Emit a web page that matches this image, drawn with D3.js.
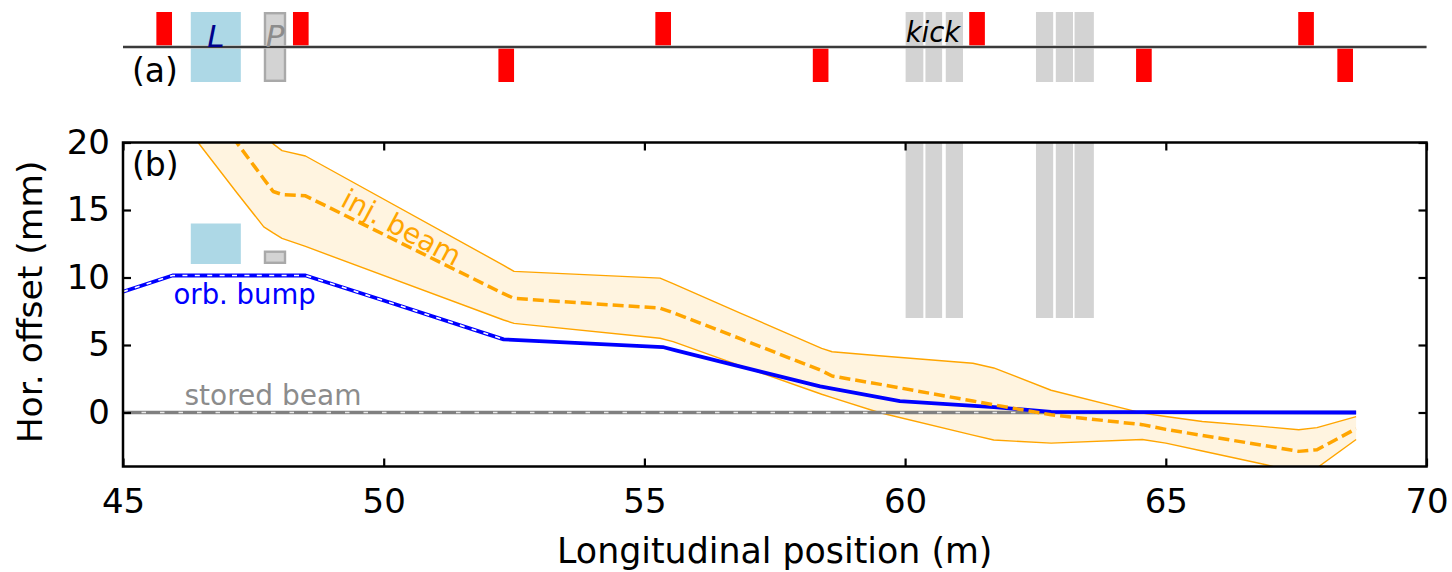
<!DOCTYPE html>
<html><head><meta charset="utf-8">
<script src="https://cdn.jsdelivr.net/npm/d3@7"></script>
<style>body{margin:0;background:#fff;} svg{display:block;font-family:"DejaVu Sans",sans-serif;}</style>
</head><body><svg id="c" width="1452" height="572"></svg>
<script>
// ---------- data ----------
const xTicks = [45, 50, 55, 60, 65, 70];
const yTicks = [0, 5, 10, 15, 20];

// injected beam envelope (mm) vs longitudinal position (m)
const injS      = [46.0, 46.44, 47.18, 47.7, 47.88, 48.05, 48.5, 52.3, 52.5, 55.3, 55.55, 56.85, 58.4, 58.6, 59.5, 61.3, 61.7, 62.8, 64.55, 65.0, 65.7, 66.9, 67.55, 67.9, 68.65];
const injUpper  = [28.5, 26.5, 23.0, 20.7, 19.9, 19.4, 19.0, 10.9, 10.45, 9.95, 9.55, 7.35, 4.75, 4.5, 4.2, 3.65, 3.3, 1.65, -0.05, -0.3, -0.67, -1.05, -1.28, -1.12, -0.3];
const injCenter = [26.1, 23.8, 20.0, 17.3, 16.37, 16.15, 16.05, 8.8, 8.45, 7.73, 7.4, 5.45, 3.1, 2.7, 2.1, 0.85, 0.57, -0.17, -0.9, -1.25, -1.7, -2.45, -2.88, -2.76, -1.2];
const injLower  = [22.2, 20.0, 16.3, 13.75, 13.3, 12.9, 12.3, 6.85, 6.6, 5.5, 5.25, 3.45, 1.35, 1.1, 0.0, -1.68, -2.04, -2.27, -2.0, -2.27, -2.85, -3.85, -4.5, -4.1, -2.0];

// orbit bump
const orbS   = [45.0, 45.95, 48.5, 50.0, 52.3, 55.35, 55.6, 58.37, 59.9, 61.7, 62.8, 68.65];
const orbVal = [8.95, 10.15, 10.15, 8.3, 5.42, 4.85, 4.6, 1.93, 0.85, 0.4, 0.05, 0.0];
const orbDashEnd = 52.3;

// stored beam
const storedS   = [45.0, 68.65];
const storedVal = [0, 0];

// lattice elements (panel a)
const quadUp   = [45.79, 48.41, 55.36, 61.38, 67.69];
const quadDown = [52.35, 58.38, 64.58, 68.44];
const quadLen  = 0.3;
const kickStart = [60.01, 60.39, 60.78, 62.51, 62.89, 63.25];
const kickEnd   = [60.35, 60.71, 61.11, 62.84, 63.22, 63.62];
const kickLow = 7, kickHigh = 20;
const lambS = [46.30, 47.26], lambY = [11, 14];
const septS = [47.70, 48.13], septY = [11, 12];

// ---------- drawing ----------
const svg = d3.select("#c");
const x = d3.scaleLinear().domain([45, 70]).range([123, 1426.5]);
const y = d3.scaleLinear().domain([-4, 20]).range([466.5, 142.5]);
const ya = d3.scaleLinear().domain([-1, 1]).range([82, 12]);

// ---- panel (a) ----
const ga = svg.append("g");
ga.append("rect").attr("x", x(lambS[0])).attr("width", x(lambS[1]) - x(lambS[0]))
  .attr("y", ya(1)).attr("height", ya(-1) - ya(1)).attr("fill", "#add8e6");
ga.append("rect").attr("x", x(septS[0]) + 1.2).attr("width", x(septS[1]) - x(septS[0]) - 2.4)
  .attr("y", ya(1) + 1.2).attr("height", ya(-1) - ya(1) - 2.4)
  .attr("fill", "#d3d3d3").attr("stroke", "#a9a9a9").attr("stroke-width", 2.4);
ga.selectAll("rect.kick").data(kickStart).join("rect").attr("class", "kick")
  .attr("x", (d) => x(d)).attr("width", (d, i) => x(kickEnd[i]) - x(d))
  .attr("y", ya(1)).attr("height", ya(-1) - ya(1)).attr("fill", "#d3d3d3");
ga.selectAll("rect.qu").data(quadUp).join("rect").attr("class", "qu")
  .attr("x", (d) => x(d - quadLen / 2)).attr("width", x(quadLen) - x(0))
  .attr("y", ya(1)).attr("height", ya(0) - ya(1)).attr("fill", "#ff0000");
ga.selectAll("rect.qd").data(quadDown).join("rect").attr("class", "qd")
  .attr("x", (d) => x(d - quadLen / 2)).attr("width", x(quadLen) - x(0))
  .attr("y", ya(0)).attr("height", ya(-1) - ya(0)).attr("fill", "#ff0000");
ga.append("line").attr("x1", x(45)).attr("x2", x(70)).attr("y1", ya(0)).attr("y2", ya(0))
  .attr("stroke", "#bbbbbb").attr("stroke-width", 3.5);
ga.append("line").attr("x1", x(45)).attr("x2", x(70)).attr("y1", ya(0)).attr("y2", ya(0))
  .attr("stroke", "#111").attr("stroke-width", 1.3);
ga.append("text").attr("x", (x(lambS[0]) + x(lambS[1])) / 2).attr("y", 46.5)
  .attr("text-anchor", "middle").attr("font-style", "italic").attr("font-size", 31)
  .attr("fill", "#00008b").text("L");
ga.append("text").attr("x", (x(septS[0]) + x(septS[1])) / 2).attr("y", 46.5)
  .attr("text-anchor", "middle").attr("font-style", "italic").attr("font-size", 31)
  .attr("fill", "#8c8c8c").text("P");
ga.append("text").attr("x", 933).attr("y", 41.5)
  .attr("text-anchor", "middle").attr("font-style", "italic").attr("font-size", 27.5)
  .attr("fill", "#000").text("kick");
ga.append("text").attr("x", 132).attr("y", 82).attr("font-size", 33).text("(a)");

// ---- panel (b) ----
svg.append("defs").append("clipPath").attr("id", "clip").append("rect")
  .attr("x", x(45)).attr("y", y(20)).attr("width", x(70) - x(45)).attr("height", y(-4) - y(20));
svg.select("defs").append("clipPath").attr("id", "clipDash").append("rect")
  .attr("x", x(45)).attr("y", y(20)).attr("width", x(orbDashEnd) - x(45)).attr("height", y(-4) - y(20));

const gb = svg.append("g").attr("clip-path", "url(#clip)");
const idx = injS.map((d, i) => i);

gb.append("path").datum(idx)
  .attr("d", d3.area().x((i) => x(injS[i])).y0((i) => y(injLower[i])).y1((i) => y(injUpper[i])))
  .attr("fill", "#ffa500").attr("fill-opacity", 0.12);

gb.selectAll("rect.kb").data(kickStart).join("rect").attr("class", "kb")
  .attr("x", (d) => x(d)).attr("width", (d, i) => x(kickEnd[i]) - x(d))
  .attr("y", y(kickHigh)).attr("height", y(kickLow) - y(kickHigh)).attr("fill", "#d3d3d3");
gb.append("rect").attr("x", x(lambS[0])).attr("width", x(lambS[1]) - x(lambS[0]))
  .attr("y", y(lambY[1])).attr("height", y(lambY[0]) - y(lambY[1])).attr("fill", "#add8e6");
gb.append("rect").attr("x", x(septS[0]) + 1.2).attr("width", x(septS[1]) - x(septS[0]) - 2.4)
  .attr("y", y(septY[1]) + 1.2).attr("height", y(septY[0]) - y(septY[1]) - 2.4)
  .attr("fill", "#d3d3d3").attr("stroke", "#a9a9a9").attr("stroke-width", 2.4);

const lineOf = (xs, ys) => d3.line().x((i) => x(xs[i])).y((i) => y(ys[i]));

gb.append("path").datum(idx).attr("d", lineOf(injS, injUpper))
  .attr("fill", "none").attr("stroke", "#ffa500").attr("stroke-width", 1.4).attr("stroke-linejoin", "round");
gb.append("path").datum(idx).attr("d", lineOf(injS, injLower))
  .attr("fill", "none").attr("stroke", "#ffa500").attr("stroke-width", 1.4).attr("stroke-linejoin", "round");

const sIdx = storedS.map((d, i) => i);
gb.append("path").datum(sIdx).attr("d", lineOf(storedS, storedVal))
  .attr("fill", "none").attr("stroke", "#808080").attr("stroke-width", 3.6);
gb.append("path").datum(sIdx).attr("d", lineOf(storedS, storedVal))
  .attr("fill", "none").attr("stroke", "#e8e8e8").attr("stroke-width", 1.6)
  .attr("stroke-dasharray", "4.5,14");

const oIdx = orbS.map((d, i) => i);
gb.append("path").datum(oIdx).attr("d", lineOf(orbS, orbVal))
  .attr("fill", "none").attr("stroke", "#0000ff").attr("stroke-width", 3.8).attr("stroke-linejoin", "round");
svg.append("path").datum(oIdx).attr("d", lineOf(orbS, orbVal)).attr("clip-path", "url(#clipDash)")
  .attr("fill", "none").attr("stroke", "#ffffff").attr("stroke-width", 1.6)
  .attr("stroke-dasharray", "5,7.4");

gb.append("path").datum(idx).attr("d", lineOf(injS, injCenter))
  .attr("fill", "none").attr("stroke", "#ffa500").attr("stroke-width", 3.5)
  .attr("stroke-dasharray", "11,5").attr("stroke-linejoin", "round");

// annotations
svg.append("text").attr("x", 173.5).attr("y", 304).attr("font-size", 27.5)
  .attr("fill", "#0000ff").text("orb. bump");
svg.append("text").attr("x", 184.5).attr("y", 405).attr("font-size", 28)
  .attr("fill", "#8c8c8c").text("stored beam");
svg.append("text").attr("transform", "translate(397,236) rotate(28)").attr("text-anchor", "middle")
  .attr("font-size", 28).attr("fill", "#ffa500").text("inj. beam");
svg.append("text").attr("x", 132).attr("y", 176).attr("font-size", 33).text("(b)");

// axes
const axB = svg.append("g").attr("transform", `translate(0,${y(-4)})`)
  .call(d3.axisBottom(x).tickValues(xTicks).tickSize(-8).tickPadding(22).tickFormat(d3.format("d")));
const axT = svg.append("g").attr("transform", `translate(0,${y(20)})`)
  .call(d3.axisTop(x).tickValues(xTicks).tickSize(-8).tickFormat(""));
const axL = svg.append("g").attr("transform", `translate(${x(45)},0)`)
  .call(d3.axisLeft(y).tickValues(yTicks).tickSize(-8).tickPadding(13).tickFormat(d3.format("d")));
const axR = svg.append("g").attr("transform", `translate(${x(70)},0)`)
  .call(d3.axisRight(y).tickValues(yTicks).tickSize(-8).tickFormat(""));
[axB, axT, axL, axR].forEach((a) => {
  a.select(".domain").remove();
  a.selectAll(".tick line").attr("stroke", "#000").attr("stroke-width", 2.2);
  a.selectAll("text").attr("font-size", 34).attr("font-family", "DejaVu Sans").attr("fill", "#000");
});
svg.append("rect").attr("x", x(45)).attr("y", y(20)).attr("width", x(70) - x(45)).attr("height", y(-4) - y(20))
  .attr("fill", "none").attr("stroke", "#000").attr("stroke-width", 2.5);

svg.append("text").attr("x", (x(45) + x(70)) / 2).attr("y", 563).attr("text-anchor", "middle")
  .attr("font-size", 34.8).text("Longitudinal position (m)");
svg.append("text").attr("transform", "translate(42,302) rotate(-90)").attr("text-anchor", "middle")
  .attr("font-size", 34.5).text("Hor. offset (mm)");
</script></body></html>
